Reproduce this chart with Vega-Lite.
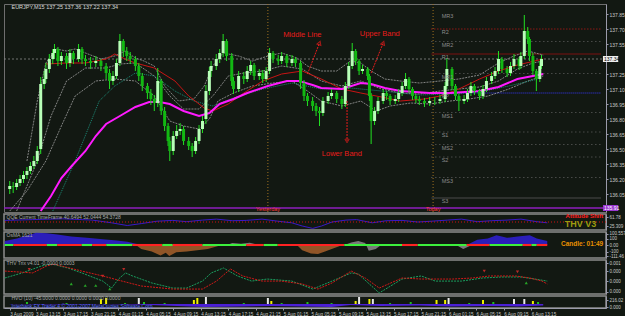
{
"$schema": "https://vega.github.io/schema/vega-lite/v6.json",
"background": "#121812",
"padding": {"left": 2, "top": 3, "right": 0, "bottom": 0},
"bounds": "flush",
"spacing": 2,
"config": {
  "font": "Liberation Sans",
  "view": {"stroke": "#6e6e6e"},
  "axis": {"labelColor": "#c8c8c8", "labelFontSize": 5, "tickColor": "#9a9aaa", "domainColor": "#9a9aaa", "grid": false, "tickSize": 2, "labelPadding": 1, "labelOverlap": false}
},
"datasets": {
  "candles": [
    {"i":1,"o":136.10,"h":136.18,"l":136.05,"c":136.13},
    {"i":3,"o":136.13,"h":136.17,"l":136.06,"c":136.12},
    {"i":5,"o":136.12,"h":136.20,"l":136.09,"c":136.16},
    {"i":7,"o":136.16,"h":136.24,"l":136.13,"c":136.20},
    {"i":9,"o":136.20,"h":136.28,"l":136.16,"c":136.24},
    {"i":11,"o":136.24,"h":136.32,"l":136.20,"c":136.28},
    {"i":13,"o":136.28,"h":136.37,"l":136.25,"c":136.33},
    {"i":15,"o":136.33,"h":136.43,"l":136.30,"c":136.38},
    {"i":17,"o":136.38,"h":136.53,"l":136.35,"c":136.48},
    {"i":19,"o":136.50,"h":137.22,"l":136.45,"c":137.15},
    {"i":21,"o":137.15,"h":137.28,"l":137.10,"c":137.20},
    {"i":22,"o":137.20,"h":137.36,"l":137.16,"c":137.30},
    {"i":24,"o":137.30,"h":137.45,"l":137.26,"c":137.40},
    {"i":26,"o":137.40,"h":137.50,"l":137.35,"c":137.46},
    {"i":27,"o":137.46,"h":137.55,"l":137.40,"c":137.50},
    {"i":29,"o":137.50,"h":137.52,"l":137.33,"c":137.38},
    {"i":31,"o":137.38,"h":137.47,"l":137.34,"c":137.43},
    {"i":34,"o":137.43,"h":137.46,"l":137.30,"c":137.36},
    {"i":36,"o":137.36,"h":137.50,"l":137.32,"c":137.46},
    {"i":38,"o":137.46,"h":137.48,"l":137.35,"c":137.40},
    {"i":41,"o":137.40,"h":137.55,"l":137.37,"c":137.50},
    {"i":43,"o":137.50,"h":137.52,"l":137.35,"c":137.40},
    {"i":45,"o":137.40,"h":137.44,"l":137.33,"c":137.38},
    {"i":48,"o":137.38,"h":137.42,"l":137.30,"c":137.36},
    {"i":51,"o":137.36,"h":137.43,"l":137.32,"c":137.38},
    {"i":54,"o":137.38,"h":137.40,"l":137.28,"c":137.33},
    {"i":57,"o":137.33,"h":137.36,"l":137.20,"c":137.26},
    {"i":59,"o":137.26,"h":137.30,"l":137.10,"c":137.18},
    {"i":61,"o":137.18,"h":137.28,"l":137.14,"c":137.23},
    {"i":63,"o":137.23,"h":137.40,"l":137.20,"c":137.36},
    {"i":65,"o":137.36,"h":137.65,"l":137.33,"c":137.58},
    {"i":67,"o":137.58,"h":137.60,"l":137.42,"c":137.48},
    {"i":69,"o":137.48,"h":137.52,"l":137.38,"c":137.43},
    {"i":71,"o":137.43,"h":137.47,"l":137.35,"c":137.40},
    {"i":74,"o":137.40,"h":137.43,"l":137.28,"c":137.33},
    {"i":76,"o":137.33,"h":137.36,"l":137.18,"c":137.23},
    {"i":78,"o":137.23,"h":137.26,"l":137.08,"c":137.13},
    {"i":81,"o":137.13,"h":137.16,"l":137.00,"c":137.06},
    {"i":83,"o":137.06,"h":137.10,"l":136.94,"c":137.00},
    {"i":85,"o":137.00,"h":137.04,"l":136.88,"c":136.96},
    {"i":87,"o":136.96,"h":137.31,"l":136.92,"c":137.18},
    {"i":89,"o":137.18,"h":137.20,"l":136.84,"c":136.88},
    {"i":91,"o":136.88,"h":136.92,"l":136.68,"c":136.73},
    {"i":93,"o":136.73,"h":136.76,"l":136.53,"c":136.58},
    {"i":94,"o":136.58,"h":136.62,"l":136.38,"c":136.48},
    {"i":96,"o":136.48,"h":136.68,"l":136.44,"c":136.63},
    {"i":98,"o":136.63,"h":136.74,"l":136.60,"c":136.68},
    {"i":100,"o":136.68,"h":136.76,"l":136.64,"c":136.70},
    {"i":102,"o":136.70,"h":136.73,"l":136.54,"c":136.58},
    {"i":105,"o":136.58,"h":136.62,"l":136.49,"c":136.53},
    {"i":107,"o":136.53,"h":136.56,"l":136.42,"c":136.48},
    {"i":109,"o":136.48,"h":136.62,"l":136.45,"c":136.58},
    {"i":111,"o":136.58,"h":136.74,"l":136.55,"c":136.70},
    {"i":113,"o":136.70,"h":136.83,"l":136.66,"c":136.78},
    {"i":115,"o":136.80,"h":137.14,"l":136.75,"c":137.08},
    {"i":117,"o":137.08,"h":137.32,"l":137.04,"c":137.28},
    {"i":118,"o":137.28,"h":137.38,"l":137.22,"c":137.33},
    {"i":121,"o":137.33,"h":137.45,"l":137.29,"c":137.40},
    {"i":123,"o":137.40,"h":137.50,"l":137.36,"c":137.46},
    {"i":125,"o":137.46,"h":137.65,"l":137.42,"c":137.58},
    {"i":127,"o":137.58,"h":137.60,"l":137.38,"c":137.43},
    {"i":130,"o":137.43,"h":137.46,"l":137.13,"c":137.18},
    {"i":131,"o":137.18,"h":137.22,"l":137.05,"c":137.10},
    {"i":134,"o":137.10,"h":137.28,"l":137.07,"c":137.23},
    {"i":137,"o":137.23,"h":137.27,"l":137.15,"c":137.20},
    {"i":139,"o":137.20,"h":137.33,"l":137.17,"c":137.28},
    {"i":141,"o":137.28,"h":137.38,"l":137.24,"c":137.34},
    {"i":143,"o":137.34,"h":137.36,"l":137.19,"c":137.23},
    {"i":146,"o":137.23,"h":137.30,"l":137.19,"c":137.26},
    {"i":148,"o":137.26,"h":137.29,"l":137.16,"c":137.20},
    {"i":150,"o":137.20,"h":137.32,"l":137.17,"c":137.28},
    {"i":152,"o":137.28,"h":137.51,"l":137.25,"c":137.46},
    {"i":154,"o":137.46,"h":137.48,"l":137.36,"c":137.40},
    {"i":157,"o":137.40,"h":137.44,"l":137.34,"c":137.38},
    {"i":159,"o":137.38,"h":137.47,"l":137.35,"c":137.43},
    {"i":162,"o":137.43,"h":137.45,"l":137.32,"c":137.36},
    {"i":165,"o":137.36,"h":137.44,"l":137.33,"c":137.40},
    {"i":167,"o":137.40,"h":137.42,"l":137.32,"c":137.36},
    {"i":170,"o":137.36,"h":137.38,"l":137.10,"c":137.16},
    {"i":172,"o":137.16,"h":137.19,"l":136.98,"c":137.03},
    {"i":174,"o":137.03,"h":137.06,"l":136.93,"c":136.98},
    {"i":177,"o":136.98,"h":137.02,"l":136.88,"c":136.93},
    {"i":179,"o":136.93,"h":136.96,"l":136.83,"c":136.88},
    {"i":181,"o":136.88,"h":136.92,"l":136.73,"c":136.86},
    {"i":183,"o":136.86,"h":137.02,"l":136.83,"c":136.98},
    {"i":186,"o":136.98,"h":137.07,"l":136.95,"c":137.03},
    {"i":188,"o":137.03,"h":137.10,"l":137.00,"c":137.06},
    {"i":191,"o":137.06,"h":137.08,"l":136.96,"c":137.00},
    {"i":194,"o":137.00,"h":137.03,"l":136.90,"c":136.95},
    {"i":196,"o":136.95,"h":137.17,"l":136.92,"c":137.13},
    {"i":198,"o":137.13,"h":137.37,"l":137.10,"c":137.33},
    {"i":200,"o":137.33,"h":137.56,"l":137.30,"c":137.48},
    {"i":202,"o":137.48,"h":137.50,"l":137.34,"c":137.38},
    {"i":204,"o":137.38,"h":137.40,"l":137.24,"c":137.28},
    {"i":206,"o":137.28,"h":137.34,"l":137.25,"c":137.30},
    {"i":209,"o":137.30,"h":137.32,"l":137.19,"c":137.23},
    {"i":210,"o":137.23,"h":137.25,"l":136.98,"c":137.03},
    {"i":211,"o":137.03,"h":137.06,"l":136.55,"c":136.78},
    {"i":213,"o":136.78,"h":136.92,"l":136.74,"c":136.88},
    {"i":215,"o":136.88,"h":137.02,"l":136.85,"c":136.98},
    {"i":218,"o":136.98,"h":137.10,"l":136.95,"c":137.06},
    {"i":220,"o":137.06,"h":137.08,"l":136.99,"c":137.03},
    {"i":222,"o":137.03,"h":137.05,"l":136.94,"c":136.98},
    {"i":225,"o":136.98,"h":137.04,"l":136.95,"c":137.00},
    {"i":227,"o":137.00,"h":137.10,"l":136.97,"c":137.06},
    {"i":229,"o":137.06,"h":137.17,"l":137.03,"c":137.13},
    {"i":231,"o":137.13,"h":137.26,"l":137.10,"c":137.20},
    {"i":233,"o":137.20,"h":137.22,"l":137.06,"c":137.10},
    {"i":235,"o":137.10,"h":137.12,"l":136.99,"c":137.03},
    {"i":237,"o":137.03,"h":137.05,"l":136.96,"c":137.00},
    {"i":239,"o":137.00,"h":137.03,"l":136.94,"c":136.98},
    {"i":242,"o":136.98,"h":137.01,"l":136.92,"c":136.96},
    {"i":245,"o":136.96,"h":137.02,"l":136.93,"c":136.98},
    {"i":248,"o":136.98,"h":137.02,"l":136.94,"c":136.98},
    {"i":251,"o":136.98,"h":137.04,"l":136.95,"c":137.00},
    {"i":254,"o":137.00,"h":137.17,"l":136.97,"c":137.13},
    {"i":255,"o":137.13,"h":137.41,"l":137.10,"c":137.30},
    {"i":258,"o":137.30,"h":137.32,"l":137.09,"c":137.13},
    {"i":260,"o":137.13,"h":137.15,"l":136.99,"c":137.03},
    {"i":262,"o":137.03,"h":137.05,"l":136.88,"c":136.98},
    {"i":265,"o":136.98,"h":137.04,"l":136.95,"c":137.00},
    {"i":267,"o":137.00,"h":137.10,"l":136.97,"c":137.06},
    {"i":269,"o":137.06,"h":137.17,"l":137.03,"c":137.13},
    {"i":271,"o":137.13,"h":137.15,"l":137.04,"c":137.08},
    {"i":274,"o":137.08,"h":137.10,"l":136.99,"c":137.03},
    {"i":276,"o":137.03,"h":137.14,"l":137.00,"c":137.10},
    {"i":278,"o":137.10,"h":137.22,"l":137.07,"c":137.18},
    {"i":281,"o":137.18,"h":137.27,"l":137.15,"c":137.23},
    {"i":283,"o":137.23,"h":137.32,"l":137.20,"c":137.28},
    {"i":285,"o":137.28,"h":137.48,"l":137.25,"c":137.40},
    {"i":287,"o":137.40,"h":137.42,"l":137.26,"c":137.30},
    {"i":290,"o":137.30,"h":137.33,"l":137.22,"c":137.26},
    {"i":292,"o":137.26,"h":137.37,"l":137.23,"c":137.33},
    {"i":294,"o":137.33,"h":137.45,"l":137.30,"c":137.40},
    {"i":297,"o":137.40,"h":137.42,"l":137.29,"c":137.33},
    {"i":298,"o":137.33,"h":137.47,"l":137.30,"c":137.43},
    {"i":300,"o":137.43,"h":137.84,"l":137.40,"c":137.68},
    {"i":302,"o":137.68,"h":137.72,"l":137.55,"c":137.60},
    {"i":303,"o":137.60,"h":137.62,"l":137.38,"c":137.43},
    {"i":305,"o":137.43,"h":137.46,"l":137.24,"c":137.28},
    {"i":307,"o":137.28,"h":137.30,"l":137.08,"c":137.20},
    {"i":309,"o":137.20,"h":137.38,"l":137.17,"c":137.33},
    {"i":310,"o":137.33,"h":137.44,"l":137.30,"c":137.40}
  ],
  "lines": [
    {"s":"upper","i":11,"p":136.38},{"s":"upper","i":17,"p":136.98},{"s":"upper","i":22,"p":137.36},{"s":"upper","i":28,"p":137.50},{"s":"upper","i":34,"p":137.48},{"s":"upper","i":39,"p":137.50},{"s":"upper","i":45,"p":137.46},{"s":"upper","i":54,"p":137.40},{"s":"upper","i":62,"p":137.43},{"s":"upper","i":68,"p":137.48},{"s":"upper","i":74,"p":137.41},{"s":"upper","i":79,"p":137.38},{"s":"upper","i":85,"p":137.33},{"s":"upper","i":91,"p":137.13},{"s":"upper","i":99,"p":136.98},{"s":"upper","i":108,"p":137.00},{"s":"upper","i":114,"p":137.13},{"s":"upper","i":119,"p":137.33},{"s":"upper","i":125,"p":137.46},{"s":"upper","i":134,"p":137.43},{"s":"upper","i":142,"p":137.38},{"s":"upper","i":151,"p":137.43},{"s":"upper","i":159,"p":137.46},{"s":"upper","i":168,"p":137.41},{"s":"upper","i":174,"p":137.33},{"s":"upper","i":182,"p":137.28},{"s":"upper","i":191,"p":137.28},{"s":"upper","i":199,"p":137.38},{"s":"upper","i":205,"p":137.36},{"s":"upper","i":211,"p":137.28},{"s":"upper","i":219,"p":137.20},{"s":"upper","i":228,"p":137.18},{"s":"upper","i":239,"p":137.16},{"s":"upper","i":251,"p":137.18},{"s":"upper","i":262,"p":137.20},{"s":"upper","i":274,"p":137.24},{"s":"upper","i":285,"p":137.36},{"s":"upper","i":294,"p":137.43},{"s":"upper","i":302,"p":137.48},{"s":"upper","i":311,"p":137.44},
    {"s":"middle","i":5,"p":135.88},{"s":"middle","i":17,"p":136.38},{"s":"middle","i":25,"p":136.83},{"s":"middle","i":34,"p":137.18},{"s":"middle","i":45,"p":137.31},{"s":"middle","i":57,"p":137.31},{"s":"middle","i":65,"p":137.35},{"s":"middle","i":74,"p":137.36},{"s":"middle","i":85,"p":137.23},{"s":"middle","i":94,"p":137.03},{"s":"middle","i":102,"p":136.90},{"s":"middle","i":111,"p":136.90},{"s":"middle","i":119,"p":137.03},{"s":"middle","i":128,"p":137.23},{"s":"middle","i":137,"p":137.26},{"s":"middle","i":148,"p":137.28},{"s":"middle","i":159,"p":137.33},{"s":"middle","i":171,"p":137.30},{"s":"middle","i":182,"p":137.18},{"s":"middle","i":194,"p":137.13},{"s":"middle","i":205,"p":137.18},{"s":"middle","i":217,"p":137.10},{"s":"middle","i":228,"p":137.06},{"s":"middle","i":239,"p":137.05},{"s":"middle","i":251,"p":137.08},{"s":"middle","i":262,"p":137.10},{"s":"middle","i":274,"p":137.12},{"s":"middle","i":285,"p":137.18},{"s":"middle","i":296,"p":137.30},{"s":"middle","i":305,"p":137.36},{"s":"middle","i":311,"p":137.38},
    {"s":"lower","i":1,"p":135.88},{"s":"lower","i":11,"p":136.08},{"s":"lower","i":22,"p":136.38},{"s":"lower","i":31,"p":136.73},{"s":"lower","i":39,"p":137.03},{"s":"lower","i":51,"p":137.18},{"s":"lower","i":62,"p":137.20},{"s":"lower","i":74,"p":137.18},{"s":"lower","i":85,"p":137.03},{"s":"lower","i":94,"p":136.78},{"s":"lower","i":102,"p":136.73},{"s":"lower","i":111,"p":136.70},{"s":"lower","i":117,"p":136.80},{"s":"lower","i":122,"p":136.98},{"s":"lower","i":131,"p":137.06},{"s":"lower","i":142,"p":137.13},{"s":"lower","i":154,"p":137.16},{"s":"lower","i":165,"p":137.18},{"s":"lower","i":174,"p":137.08},{"s":"lower","i":182,"p":136.98},{"s":"lower","i":194,"p":136.93},{"s":"lower","i":205,"p":136.98},{"s":"lower","i":214,"p":136.88},{"s":"lower","i":222,"p":136.93},{"s":"lower","i":234,"p":136.96},{"s":"lower","i":245,"p":136.95},{"s":"lower","i":257,"p":136.98},{"s":"lower","i":268,"p":137.00},{"s":"lower","i":279,"p":137.03},{"s":"lower","i":291,"p":137.10},{"s":"lower","i":302,"p":137.18},{"s":"lower","i":311,"p":137.23},
    {"s":"sma","i":19,"p":135.88},{"s":"sma","i":25,"p":136.03},{"s":"sma","i":31,"p":136.21},{"s":"sma","i":37,"p":136.33},{"s":"sma","i":45,"p":136.48},{"s":"sma","i":51,"p":136.63},{"s":"sma","i":57,"p":136.75},{"s":"sma","i":65,"p":136.83},{"s":"sma","i":74,"p":136.92},{"s":"sma","i":82,"p":136.97},{"s":"sma","i":88,"p":136.97},{"s":"sma","i":94,"p":136.95},{"s":"sma","i":102,"p":136.88},{"s":"sma","i":111,"p":136.83},{"s":"sma","i":117,"p":136.86},{"s":"sma","i":123,"p":136.95},{"s":"sma","i":131,"p":137.00},{"s":"sma","i":139,"p":137.06},{"s":"sma","i":151,"p":137.13},{"s":"sma","i":162,"p":137.18},{"s":"sma","i":169,"p":137.18},{"s":"sma","i":177,"p":137.14},{"s":"sma","i":182,"p":137.11},{"s":"sma","i":194,"p":137.10},{"s":"sma","i":205,"p":137.16},{"s":"sma","i":211,"p":137.15},{"s":"sma","i":219,"p":137.11},{"s":"sma","i":228,"p":137.08},{"s":"sma","i":245,"p":137.06},{"s":"sma","i":257,"p":137.06},{"s":"sma","i":274,"p":137.08},{"s":"sma","i":285,"p":137.12},{"s":"sma","i":296,"p":137.20},{"s":"sma","i":308,"p":137.24},{"s":"sma","i":311,"p":137.25},
    {"s":"ema","i":22,"p":137.35},{"s":"ema","i":34,"p":137.36},{"s":"ema","i":45,"p":137.36},{"s":"ema","i":57,"p":137.40},{"s":"ema","i":62,"p":137.45},{"s":"ema","i":68,"p":137.40},{"s":"ema","i":74,"p":137.36},{"s":"ema","i":85,"p":137.31},{"s":"ema","i":97,"p":137.18},{"s":"ema","i":105,"p":137.03},{"s":"ema","i":114,"p":136.91},{"s":"ema","i":119,"p":136.88},{"s":"ema","i":128,"p":136.95},{"s":"ema","i":137,"p":137.06},{"s":"ema","i":148,"p":137.18},{"s":"ema","i":159,"p":137.25},{"s":"ema","i":171,"p":137.28},{"s":"ema","i":182,"p":137.20},{"s":"ema","i":194,"p":137.10},{"s":"ema","i":205,"p":137.06},{"s":"ema","i":217,"p":137.02},{"s":"ema","i":228,"p":136.98},{"s":"ema","i":242,"p":137.00},{"s":"ema","i":251,"p":137.03},{"s":"ema","i":262,"p":137.10},{"s":"ema","i":274,"p":137.20},{"s":"ema","i":285,"p":137.28},{"s":"ema","i":296,"p":137.34},{"s":"ema","i":311,"p":137.40},
    {"s":"slow","i":26,"p":135.88},{"s":"slow","i":39,"p":136.38},{"s":"slow","i":53,"p":136.98},{"s":"slow","i":62,"p":137.13},{"s":"slow","i":74,"p":137.26},{"s":"slow","i":85,"p":137.23},{"s":"slow","i":97,"p":137.08},{"s":"slow","i":108,"p":136.98},{"s":"slow","i":119,"p":136.93},{"s":"slow","i":131,"p":137.01},{"s":"slow","i":148,"p":137.10},{"s":"slow","i":165,"p":137.16},{"s":"slow","i":182,"p":137.10},{"s":"slow","i":199,"p":137.11},{"s":"slow","i":217,"p":137.08},{"s":"slow","i":239,"p":137.04},{"s":"slow","i":257,"p":137.05},{"s":"slow","i":274,"p":137.07},{"s":"slow","i":291,"p":137.13},{"s":"slow","i":308,"p":137.20}
  ],
  "pivots": [
    {"n":"MR3","p":137.86},{"n":"R2","p":137.70},{"n":"MR2","p":137.575},{"n":"R1","p":137.45},{"n":"MR1","p":137.255},{"n":"PP","p":137.06},{"n":"MS1","p":136.865},{"n":"S1","p":136.67},{"n":"MS2","p":136.545},{"n":"S2","p":136.42},{"n":"MS3","p":136.215},{"n":"S3","p":136.01}
  ],
  "days": [{"d":"Yesterday","i":151},{"d":"Today","i":247}],
  "notes": [
    {"t":"Middle Line","i":171,"p":137.64},
    {"t":"Upper Band","i":216,"p":137.65},
    {"t":"Lower Band","i":194,"p":136.45}
  ],
  "arrows": [
    {"a":"mid","i0":174,"p0":137.25,"i1":181,"p1":137.56},
    {"a":"up","i0":211,"p0":137.26,"i1":218,"p1":137.56},
    {"a":"low","i0":197,"p0":136.98,"i1":197,"p1":136.58}
  ],
  "qqe": [
    {"i":1,"v":60},{"i":17,"v":65},{"i":34,"v":70},{"i":51,"v":62},{"i":62,"v":45},{"i":71,"v":28},{"i":79,"v":40},{"i":88,"v":55},{"i":97,"v":60},{"i":105,"v":52},{"i":114,"v":62},{"i":122,"v":68},{"i":131,"v":58},{"i":139,"v":60},{"i":148,"v":68},{"i":157,"v":55},{"i":165,"v":45},{"i":171,"v":25},{"i":177,"v":10},{"i":182,"v":25},{"i":188,"v":50},{"i":196,"v":62},{"i":202,"v":65},{"i":211,"v":45},{"i":219,"v":58},{"i":228,"v":60},{"i":237,"v":50},{"i":245,"v":55},{"i":254,"v":62},{"i":262,"v":68},{"i":271,"v":52},{"i":279,"v":58},{"i":288,"v":62},{"i":296,"v":68},{"i":305,"v":52},{"i":311,"v":45}
  ],
  "osma": [
    {"g":1,"d":"up","i":1,"v":0.3},{"g":1,"d":"up","i":8,"v":0.5},{"g":1,"d":"up","i":14,"v":0.75},{"g":1,"d":"up","i":19,"v":0.95},{"g":1,"d":"up","i":25,"v":0.9},{"g":1,"d":"up","i":31,"v":0.8},{"g":1,"d":"up","i":39,"v":0.65},{"g":1,"d":"up","i":48,"v":0.55},{"g":1,"d":"up","i":57,"v":0.45},{"g":1,"d":"up","i":65,"v":0.35},{"g":1,"d":"up","i":71,"v":0.25},{"g":1,"d":"up","i":76,"v":0.1},{"g":1,"d":"up","i":79,"v":0},
    {"g":2,"d":"down","i":76,"v":0},{"g":2,"d":"down","i":79,"v":-0.3},{"g":2,"d":"down","i":85,"v":-0.5},{"g":2,"d":"down","i":90,"v":-0.8},{"g":2,"d":"down","i":93,"v":-0.6},{"g":2,"d":"down","i":95,"v":-0.85},{"g":2,"d":"down","i":99,"v":-0.55},{"g":2,"d":"down","i":105,"v":-0.5},{"g":2,"d":"down","i":111,"v":-0.4},{"g":2,"d":"down","i":117,"v":-0.3},{"g":2,"d":"down","i":121,"v":-0.15},{"g":2,"d":"down","i":125,"v":0},
    {"g":3,"d":"flat","i":128,"v":0},{"g":3,"d":"flat","i":131,"v":0.15},{"g":3,"d":"flat","i":136,"v":0.1},{"g":3,"d":"flat","i":141,"v":0.18},{"g":3,"d":"flat","i":146,"v":0},
    {"g":4,"d":"down","i":168,"v":0},{"g":4,"d":"down","i":171,"v":-0.4},{"g":4,"d":"down","i":176,"v":-0.65},{"g":4,"d":"down","i":180,"v":-0.7},{"g":4,"d":"down","i":184,"v":-0.5},{"g":4,"d":"down","i":189,"v":-0.25},{"g":4,"d":"down","i":194,"v":0},
    {"g":5,"d":"flat","i":195,"v":0},{"g":5,"d":"flat","i":199,"v":0.2},{"g":5,"d":"flat","i":203,"v":0.3},{"g":5,"d":"flat","i":207,"v":0.15},{"g":5,"d":"flat","i":209,"v":-0.45},{"g":5,"d":"flat","i":213,"v":-0.3},{"g":5,"d":"flat","i":216,"v":0},
    {"g":6,"d":"flat","i":259,"v":0},{"g":6,"d":"flat","i":263,"v":-0.3},{"g":6,"d":"flat","i":268,"v":0},
    {"g":7,"d":"up","i":265,"v":0},{"g":7,"d":"up","i":271,"v":0.4},{"g":7,"d":"up","i":277,"v":0.5},{"g":7,"d":"up","i":282,"v":0.75},{"g":7,"d":"up","i":288,"v":0.55},{"g":7,"d":"up","i":294,"v":0.65},{"g":7,"d":"up","i":301,"v":0.75},{"g":7,"d":"up","i":305,"v":0.5},{"g":7,"d":"up","i":311,"v":0.3}
  ],
  "strip": [
    {"i0":1,"i1":6,"sig":"buy"},{"i0":6,"i1":25,"sig":"sell"},{"i0":25,"i1":31,"sig":"buy"},{"i0":31,"i1":45,"sig":"sell"},{"i0":45,"i1":51,"sig":"buy"},{"i0":51,"i1":59,"sig":"sell"},{"i0":59,"i1":74,"sig":"buy"},{"i0":74,"i1":91,"sig":"sell"},{"i0":91,"i1":97,"sig":"buy"},{"i0":97,"i1":114,"sig":"sell"},{"i0":114,"i1":139,"sig":"buy"},{"i0":139,"i1":149,"sig":"sell"},{"i0":149,"i1":157,"sig":"buy"},{"i0":157,"i1":195,"sig":"sell"},{"i0":195,"i1":228,"sig":"buy"},{"i0":228,"i1":237,"sig":"sell"},{"i0":237,"i1":265,"sig":"buy"},{"i0":265,"i1":278,"sig":"sell"},{"i0":278,"i1":297,"sig":"buy"},{"i0":297,"i1":302,"sig":"sell"},{"i0":302,"i1":305,"sig":"buy"},{"i0":305,"i1":311,"sig":"sell"}
  ],
  "trix": [
    {"s":"fast","i":1,"v":-0.06},{"s":"fast","i":11,"v":0.24},{"s":"fast","i":22,"v":0.65},{"s":"fast","i":28,"v":0.76},{"s":"fast","i":37,"v":0.53},{"s":"fast","i":45,"v":0.24},{"s":"fast","i":57,"v":-0.24},{"s":"fast","i":62,"v":-0.65},{"s":"fast","i":66,"v":-0.12},{"s":"fast","i":70,"v":0.24},{"s":"fast","i":74,"v":0.06},{"s":"fast","i":85,"v":-0.35},{"s":"fast","i":97,"v":-0.65},{"s":"fast","i":105,"v":-0.65},{"s":"fast","i":114,"v":-0.24},{"s":"fast","i":119,"v":0.24},{"s":"fast","i":126,"v":0.53},{"s":"fast","i":134,"v":0.06},{"s":"fast","i":142,"v":-0.24},{"s":"fast","i":151,"v":-0.12},{"s":"fast","i":165,"v":-0.24},{"s":"fast","i":177,"v":-0.71},{"s":"fast","i":188,"v":-0.24},{"s":"fast","i":199,"v":0.24},{"s":"fast","i":203,"v":0.18},{"s":"fast","i":215,"v":-0.94},{"s":"fast","i":228,"v":-0.12},{"s":"fast","i":239,"v":0.06},{"s":"fast","i":247,"v":-0.24},{"s":"fast","i":262,"v":-0.24},{"s":"fast","i":274,"v":-0.06},{"s":"fast","i":285,"v":0},{"s":"fast","i":296,"v":0},{"s":"fast","i":304,"v":-0.12},{"s":"fast","i":311,"v":-0.24},
    {"s":"slow","i":1,"v":0.35},{"s":"slow","i":17,"v":0.24},{"s":"slow","i":25,"v":0.65},{"s":"slow","i":29,"v":0.76},{"s":"slow","i":45,"v":0.35},{"s":"slow","i":57,"v":0.06},{"s":"slow","i":68,"v":-0.24},{"s":"slow","i":79,"v":-0.53},{"s":"slow","i":97,"v":-0.71},{"s":"slow","i":114,"v":-0.71},{"s":"slow","i":122,"v":-0.24},{"s":"slow","i":130,"v":0.47},{"s":"slow","i":137,"v":0.06},{"s":"slow","i":148,"v":-0.24},{"s":"slow","i":159,"v":-0.24},{"s":"slow","i":171,"v":-0.41},{"s":"slow","i":180,"v":-0.71},{"s":"slow","i":188,"v":-0.35},{"s":"slow","i":199,"v":0.35},{"s":"slow","i":207,"v":-0.06},{"s":"slow","i":215,"v":-0.65},{"s":"slow","i":228,"v":-0.06},{"s":"slow","i":239,"v":-0.12},{"s":"slow","i":257,"v":-0.12},{"s":"slow","i":268,"v":-0.06},{"s":"slow","i":278,"v":0.06},{"s":"slow","i":293,"v":0.06},{"s":"slow","i":301,"v":-0.06},{"s":"slow","i":308,"v":-0.24},{"s":"slow","i":311,"v":-0.41}
  ],
  "tmarks": [
    {"k":"sell","i":15,"v":0.45},{"k":"sell","i":57,"v":0.05},{"k":"sell","i":69,"v":0.45},{"k":"sell","i":275,"v":0.35},{"k":"sell","i":294,"v":0.3},
    {"k":"buy","i":39,"v":-0.4},{"k":"buy","i":47,"v":-0.5},{"k":"buy","i":53,"v":-0.5},{"k":"buy","i":61,"v":-0.7},{"k":"buy","i":299,"v":-0.35}
  ],
  "vol": [
    {"i":11,"v":2,"c":"C"},{"i":34,"v":1,"c":"C"},{"i":54,"v":5,"c":"A"},{"i":57,"v":6,"c":"A"},{"i":68,"v":1,"c":"C"},{"i":76,"v":6,"c":"B"},{"i":79,"v":2,"c":"C"},{"i":91,"v":1,"c":"C"},{"i":108,"v":4,"c":"A"},{"i":110,"v":6,"c":"A"},{"i":115,"v":7,"c":"B"},{"i":137,"v":1,"c":"C"},{"i":151,"v":6,"c":"B"},{"i":153,"v":3,"c":"A"},{"i":159,"v":1,"c":"C"},{"i":174,"v":2,"c":"C"},{"i":188,"v":1,"c":"C"},{"i":202,"v":3,"c":"A"},{"i":204,"v":7,"c":"B"},{"i":210,"v":5,"c":"A"},{"i":212,"v":5,"c":"B"},{"i":222,"v":1,"c":"C"},{"i":234,"v":2,"c":"C"},{"i":249,"v":4,"c":"A"},{"i":254,"v":4,"c":"A"},{"i":256,"v":6,"c":"B"},{"i":268,"v":1,"c":"C"},{"i":276,"v":4,"c":"A"},{"i":282,"v":2,"c":"C"},{"i":294,"v":5,"c":"B"},{"i":300,"v":5,"c":"B"},{"i":305,"v":3,"c":"A"},{"i":308,"v":2,"c":"C"}
  ],
  "volneg": [
    {"i":1,"v":-0.3},{"i":34,"v":-0.6},{"i":57,"v":-0.3},{"i":79,"v":-0.8},{"i":94,"v":-1.8},{"i":114,"v":-3},{"i":137,"v":-2.5},{"i":154,"v":-2},{"i":171,"v":-2.5},{"i":188,"v":-3},{"i":199,"v":-1},{"i":217,"v":-2},{"i":239,"v":-1.5},{"i":257,"v":-2.5},{"i":279,"v":-2},{"i":296,"v":-2.5},{"i":311,"v":-1.5}
  ]
},
"vconcat": [
  {
    "width": 602, "height": 208,
    "view": {"stroke": "#6e6e6e"},
    "layer": [
      {"data": {"name": "pivots"}, "transform": [{"filter": "indexof(['MR2','MR1','MS1','S1','MS2','S2','MS3'], datum.n) >= 0"}],
       "mark": {"type": "rule", "strokeWidth": 1, "color": "#666666", "strokeDash": [1,3]},
       "encoding": {
         "x": {"datum": 246, "scale": {"domain": [0.57, 344.57], "nice": false, "zero": false}, "axis": null},
         "x2": {"datum": 344.57},
         "y": {"field": "p", "type": "quantitative", "scale": {"domain": [135.87, 137.95], "nice": false, "zero": false},
               "axis": {"orient": "right", "title": null, "labelOverlap": false, "tickCount": 50, "values": [137.85,137.70,137.55,137.25,137.10,136.95,136.80,136.65,136.50,136.35,136.20,136.05], "format": ".2f"}}
       }},
      {"data": {"name": "pivots"}, "transform": [{"filter": "datum.n == 'R2'"}],
       "mark": {"type": "rule", "strokeWidth": 1, "color": "#d01818", "strokeDash": [1,2]},
       "encoding": {"x": {"datum": 246, "axis": null}, "x2": {"datum": 344.57}, "y": {"field": "p", "type": "quantitative", "axis": {"title": null}}}},
      {"data": {"name": "pivots"}, "transform": [{"filter": "datum.n == 'R1'"}],
       "mark": {"type": "rule", "strokeWidth": 1, "color": "#7a1010"},
       "encoding": {"x": {"datum": 246, "axis": null}, "x2": {"datum": 344.57}, "y": {"field": "p", "type": "quantitative", "axis": {"title": null}}}},
      {"data": {"name": "pivots"}, "transform": [{"filter": "datum.n == 'PP'"}],
       "mark": {"type": "rule", "strokeWidth": 1, "color": "#3838ff", "strokeDash": [1,1]},
       "encoding": {"x": {"datum": 246, "axis": null}, "x2": {"datum": 344.57}, "y": {"field": "p", "type": "quantitative", "axis": {"title": null}}}},
      {"data": {"name": "pivots"}, "transform": [{"filter": "datum.n == 'S3'"}],
       "mark": {"type": "rule", "strokeWidth": 1, "color": "#4a4a4a"},
       "encoding": {"x": {"datum": 246, "axis": null}, "x2": {"datum": 344.57}, "y": {"field": "p", "type": "quantitative", "axis": {"title": null}}}},
      {"data": {"values": [{}]}, "mark": {"type": "rule", "color": "#8a8a8a", "strokeDash": [2,2], "strokeWidth": 0.8},
       "encoding": {"y": {"datum": 137.40}}},
      {"data": {"values": [{}]}, "mark": {"type": "rule", "color": "#8e1ebe", "strokeWidth": 1.5},
       "encoding": {"y": {"datum": 135.91}}},
      {"data": {"name": "days"}, "mark": {"type": "rule", "strokeDash": [1,2], "strokeWidth": 1, "color": "#a07020"},
       "encoding": {"x": {"field": "i", "type": "quantitative", "axis": null}}},
      {"data": {"name": "lines"}, "transform": [{"filter": "datum.s == 'upper' || datum.s == 'middle' || datum.s == 'lower'"}],
       "mark": {"type": "line", "color": "#a0a0a0", "strokeDash": [2,1], "strokeWidth": 0.8},
       "encoding": {
         "x": {"field": "i", "type": "quantitative", "axis": null},
         "y": {"field": "p", "type": "quantitative", "axis": {"title": null}},
         "detail": {"field": "s"}
       }},
      {"data": {"name": "lines"}, "transform": [{"filter": "datum.s == 'slow'"}],
       "mark": {"type": "line", "color": "#1c8c78", "strokeDash": [1,1], "strokeWidth": 1},
       "encoding": {"x": {"field": "i", "type": "quantitative", "axis": null}, "y": {"field": "p", "type": "quantitative", "axis": {"title": null}}}},
      {"data": {"name": "lines"}, "transform": [{"filter": "datum.s == 'ema'"}],
       "mark": {"type": "line", "color": "#c81414", "strokeWidth": 1},
       "encoding": {"x": {"field": "i", "type": "quantitative", "axis": null}, "y": {"field": "p", "type": "quantitative", "axis": {"title": null}}}},
      {"data": {"name": "lines"}, "transform": [{"filter": "datum.s == 'sma'"}],
       "mark": {"type": "line", "color": "#ff1aff", "strokeWidth": 2},
       "encoding": {"x": {"field": "i", "type": "quantitative", "axis": null}, "y": {"field": "p", "type": "quantitative", "axis": {"title": null}}}},
      {"data": {"name": "candles"}, "mark": {"type": "rule", "color": "#22e022", "strokeWidth": 1},
       "encoding": {
         "x": {"field": "i", "type": "quantitative", "axis": null},
         "y": {"field": "l", "type": "quantitative", "axis": {"title": null}},
         "y2": {"field": "h"}
       }},
      {"data": {"name": "candles"}, "mark": {"type": "bar", "size": 3},
       "encoding": {
         "x": {"field": "i", "type": "quantitative", "axis": null},
         "y": {"field": "o", "type": "quantitative", "axis": {"title": null}},
         "y2": {"field": "c"},
         "color": {"condition": {"test": "datum.c >= datum.o", "value": "#b8ffb8"}, "value": "#12b812"}
       }},
      {"data": {"name": "pivots"}, "mark": {"type": "text", "align": "left", "baseline": "middle", "dy": 3, "fontSize": 5.5, "color": "#8c8c8c"},
       "encoding": {
         "x": {"datum": 252, "axis": null},
         "y": {"field": "p", "type": "quantitative", "axis": {"title": null}},
         "text": {"field": "n"}
       }},
      {"data": {"name": "days"}, "mark": {"type": "text", "align": "center", "baseline": "middle", "fontSize": 5.5, "color": "#ff3a3a"},
       "encoding": {
         "x": {"field": "i", "type": "quantitative", "axis": null},
         "y": {"datum": 135.90},
         "text": {"field": "d"}
       }},
      {"data": {"name": "notes"}, "mark": {"type": "text", "align": "center", "baseline": "middle", "fontSize": 7.5, "color": "#e81c1c"},
       "encoding": {
         "x": {"field": "i", "type": "quantitative", "axis": null},
         "y": {"field": "p", "type": "quantitative", "axis": {"title": null}},
         "text": {"field": "t"}
       }},
      {"data": {"name": "arrows"}, "mark": {"type": "rule", "color": "#e81c1c", "strokeDash": [2,1], "strokeWidth": 1},
       "encoding": {
         "x": {"field": "i0", "type": "quantitative", "axis": null},
         "x2": {"field": "i1"},
         "y": {"field": "p0", "type": "quantitative", "axis": {"title": null}},
         "y2": {"field": "p1"}
       }},
      {"data": {"name": "arrows"}, "transform": [{"filter": "datum.a != 'low'"}],
       "mark": {"type": "point", "shape": "triangle-up", "filled": false, "color": "#e81c1c", "size": 18, "strokeWidth": 1, "angle": 20},
       "encoding": {
         "x": {"field": "i1", "type": "quantitative", "axis": null},
         "y": {"field": "p1", "type": "quantitative", "axis": {"title": null}}
       }},
      {"data": {"name": "arrows"}, "transform": [{"filter": "datum.a == 'low'"}],
       "mark": {"type": "point", "shape": "triangle-down", "filled": false, "color": "#e81c1c", "size": 18, "strokeWidth": 1},
       "encoding": {
         "x": {"field": "i1", "type": "quantitative", "axis": null},
         "y": {"field": "p1", "type": "quantitative", "axis": {"title": null}}
       }},
      {"data": {"values": [{"t": "EURJPY,M15  137.25 137.36 137.22 137.34"}]},
       "mark": {"type": "text", "align": "left", "baseline": "top", "fontSize": 5.5, "color": "#d8d8d8"},
       "encoding": {"x": {"datum": 2, "axis": null}, "y": {"datum": 137.94}, "text": {"field": "t"}}},
      {"data": {"values": [{"lo": 137.37, "hi": 137.43}]},
       "mark": {"type": "rect", "color": "#eeeeee"},
       "encoding": {
         "x": {"datum": 345.7, "axis": null}, "x2": {"datum": 354.6},
         "y": {"field": "lo", "type": "quantitative", "axis": {"title": null}}, "y2": {"field": "hi"}
       }},
      {"data": {"values": [{"lo": 135.88, "hi": 135.94}]},
       "mark": {"type": "rect", "color": "#9a38d0"},
       "encoding": {
         "x": {"datum": 345.7, "axis": null}, "x2": {"datum": 354.6},
         "y": {"field": "lo", "type": "quantitative", "axis": {"title": null}}, "y2": {"field": "hi"}
       }},
      {"data": {"values": [{"p": 137.40, "lab": "137.34"}]},
       "mark": {"type": "text", "align": "left", "baseline": "middle", "fontSize": 5, "color": "#000000"},
       "encoding": {"x": {"datum": 346.3, "axis": null}, "y": {"field": "p", "type": "quantitative", "axis": {"title": null}}, "text": {"field": "lab"}}},
      {"data": {"values": [{"p": 135.91, "lab": "135.91"}]},
       "mark": {"type": "text", "align": "left", "baseline": "middle", "fontSize": 5, "color": "#ffffff"},
       "encoding": {"x": {"datum": 346.3, "axis": null}, "y": {"field": "p", "type": "quantitative", "axis": {"title": null}}, "text": {"field": "lab"}}}
    ]
  },
  {
    "width": 602, "height": 16,
    "view": {"stroke": "#8c8c8c", "strokeWidth": 1.5},
    "layer": [
      {"data": {"name": "qqe"}, "mark": {"type": "line", "color": "#3a18c8", "strokeWidth": 1},
       "encoding": {
         "x": {"field": "i", "type": "quantitative", "scale": {"domain": [0.57, 344.57], "nice": false, "zero": false}, "axis": null},
         "y": {"field": "v", "type": "quantitative", "scale": {"domain": [0, 100], "nice": false},
               "axis": {"orient": "right", "title": null, "labelOverlap": false, "tickCount": 50, "labelFontSize": 4.5, "values": [80, 25], "labelExpr": "datum.value > 50 ? '61.78' : '25.309'"}}
       }},
      {"data": {"values": [{}]}, "mark": {"type": "rule", "color": "#d01010", "strokeDash": [1,2]},
       "encoding": {"y": {"datum": 50}}},
      {"data": {"values": [{"t": "QQE Current TimeFrame 40.6494 52.0444 54.3728"}]},
       "mark": {"type": "text", "align": "left", "baseline": "top", "fontSize": 5, "color": "#a8a8a8"},
       "encoding": {"x": {"datum": 2, "axis": null}, "y": {"datum": 92}, "text": {"field": "t"}}},
      {"data": {"values": [{"t": "Attitude Shift"}]},
       "mark": {"type": "text", "align": "right", "baseline": "top", "fontSize": 6, "fontWeight": "bold", "color": "#ff2020"},
       "encoding": {"x": {"datum": 343, "axis": null}, "y": {"datum": 108}, "text": {"field": "t"}}},
      {"data": {"values": [{"t": "THV V3"}]},
       "mark": {"type": "text", "align": "right", "baseline": "middle", "fontSize": 9, "fontWeight": "bold", "color": "#9c9c10"},
       "encoding": {"x": {"datum": 339, "axis": null}, "y": {"datum": 40}, "text": {"field": "t"}}}
    ]
  },
  {
    "width": 602, "height": 26,
    "view": {"stroke": "#8c8c8c", "strokeWidth": 1.5},
    "resolve": {"scale": {"color": "independent"}},
    "layer": [
      {"data": {"name": "osma"}, "mark": {"type": "area", "opacity": 0.85},
       "encoding": {
         "x": {"field": "i", "type": "quantitative", "scale": {"domain": [0.57, 344.57], "nice": false, "zero": false}, "axis": null},
         "y": {"field": "v", "type": "quantitative", "scale": {"domain": [-1, 1], "nice": false},
               "axis": {"orient": "right", "title": null, "labelOverlap": false, "tickCount": 50, "labelFontSize": 4.5, "values": [0.85, 0.5, 0, -0.5, -0.85], "labelExpr": "datum.value > 0.7 ? '100.557' : datum.value > 0.3 ? '100' : datum.value > -0.3 ? '0.00' : datum.value > -0.7 ? '-100' : '-111.46'"}},
         "y2": {"datum": 0},
         "detail": {"field": "g"},
         "color": {"field": "d", "type": "nominal", "legend": null, "scale": {"domain": ["up","down","flat"], "range": ["#3020d8","#a8602c","#8c8c8c"]}}
       }},
      {"data": {"name": "strip"}, "mark": {"type": "rect"},
       "encoding": {
         "x": {"field": "i0", "type": "quantitative", "axis": null},
         "x2": {"field": "i1"},
         "y": {"datum": 0.08},
         "y2": {"datum": -0.08},
         "color": {"field": "sig", "type": "nominal", "legend": null, "scale": {"domain": ["buy","sell"], "range": ["#3cf03c","#ff2222"]}}
       }},
      {"data": {"values": [{"t": "OsMA 1621"}]},
       "mark": {"type": "text", "align": "left", "baseline": "top", "fontSize": 5, "color": "#a8a8a8"},
       "encoding": {"x": {"datum": 2, "axis": null}, "y": {"datum": 0.95}, "text": {"field": "t"}}},
      {"data": {"values": [{"t": "Candle: 01:49"}]},
       "mark": {"type": "text", "align": "right", "baseline": "middle", "fontSize": 6.5, "fontWeight": "bold", "color": "#e89000"},
       "encoding": {"x": {"datum": 343, "axis": null}, "y": {"datum": 0.05}, "text": {"field": "t"}}}
    ]
  },
  {
    "width": 602, "height": 34,
    "view": {"stroke": "#8c8c8c", "strokeWidth": 1.5},
    "resolve": {"scale": {"color": "independent"}},
    "layer": [
      {"data": {"name": "trix"}, "mark": {"type": "line", "strokeDash": [2,1], "strokeWidth": 1},
       "encoding": {
         "x": {"field": "i", "type": "quantitative", "scale": {"domain": [0.57, 344.57], "nice": false, "zero": false}, "axis": null},
         "y": {"field": "v", "type": "quantitative", "scale": {"domain": [-1, 1], "nice": false},
               "axis": {"orient": "right", "title": null, "labelOverlap": false, "tickCount": 50, "labelFontSize": 4.5, "values": [0.82, 0.35, -0.24, -0.88], "labelExpr": "datum.value > 0.5 ? '0.001' : '0.000'"}},
         "color": {"field": "s", "type": "nominal", "legend": null, "scale": {"domain": ["fast","slow"], "range": ["#1aa060","#d01818"]}}
       }},
      {"data": {"name": "tmarks"}, "transform": [{"filter": "datum.k == 'sell'"}],
       "mark": {"type": "point", "filled": true, "size": 10, "shape": "triangle-down", "color": "#ff3030"},
       "encoding": {
         "x": {"field": "i", "type": "quantitative", "axis": null},
         "y": {"field": "v", "type": "quantitative", "axis": {"title": null}}
       }},
      {"data": {"name": "tmarks"}, "transform": [{"filter": "datum.k == 'buy'"}],
       "mark": {"type": "point", "filled": true, "size": 10, "shape": "triangle-up", "color": "#30e030"},
       "encoding": {
         "x": {"field": "i", "type": "quantitative", "axis": null},
         "y": {"field": "v", "type": "quantitative", "axis": {"title": null}}
       }},
      {"data": {"values": [{"t": "THV Trix v4.01 -0.0000 0.0003"}]},
       "mark": {"type": "text", "align": "left", "baseline": "top", "fontSize": 5, "color": "#a8a8a8"},
       "encoding": {"x": {"datum": 2, "axis": null}, "y": {"datum": 0.95}, "text": {"field": "t"}}}
    ]
  },
  {
    "width": 602, "height": 12,
    "view": {"stroke": "#8c8c8c", "strokeWidth": 1.5},
    "resolve": {"scale": {"color": "independent"}},
    "layer": [
      {"data": {"name": "volneg"}, "mark": {"type": "area", "color": "#4b1fd6"},
       "encoding": {
         "x": {"field": "i", "type": "quantitative", "scale": {"domain": [0.57, 344.57], "nice": false, "zero": false},
               "axis": {"orient": "bottom", "title": null, "labelOverlap": false, "tickCount": 50, "labelFontSize": 4.6, "values": [1,16,32,48,64,80,96,112,128,144,160,176,192,208,224,240,256,272,288,304], "labelAlign": "left", "labelFlush": false, "labelBound": false, "labelExpr": "datum.value < 8 ? '3 Aug 2009' : timeFormat(datetime(2009, 7, 3, 9, 15 + 15 * datum.value), '%-d %b %H:%M')"}},
         "y": {"field": "v", "type": "quantitative", "scale": {"domain": [-4, 8], "nice": false},
               "axis": {"orient": "right", "title": null, "labelOverlap": false, "tickCount": 50, "labelFontSize": 4.5, "values": [4, -3], "labelExpr": "datum.value > 0 ? '216.02' : '0.000'"}},
         "y2": {"datum": 0}
       }},
      {"data": {"name": "vol"}, "mark": {"type": "bar", "size": 2},
       "encoding": {
         "x": {"field": "i", "type": "quantitative", "axis": {"title": null}},
         "y": {"field": "v", "type": "quantitative", "axis": {"title": null}},
         "y2": {"datum": 0},
         "color": {"field": "c", "type": "nominal", "legend": null, "scale": {"domain": ["A","B","C"], "range": ["#f0f000","#e8e8e8","#20c020"]}}
       }},
      {"data": {"values": [{"t": "HVO (10) -45.0000 0.0000 0.0000 0.0000 0.0000"}]},
       "mark": {"type": "text", "align": "left", "baseline": "top", "fontSize": 5, "color": "#a8a8a8"},
       "encoding": {"x": {"datum": 2}, "y": {"datum": 7.8}, "text": {"field": "t"}}},
      {"data": {"values": [{"t": "Interbank FX Trader 4 © 2001-2007 MetaQuotes Software Corp."}]},
       "mark": {"type": "text", "align": "left", "baseline": "middle", "fontSize": 5, "color": "#5a6aff"},
       "encoding": {"x": {"datum": 2}, "y": {"datum": -1.8}, "text": {"field": "t"}}}
    ]
  }
]
}
